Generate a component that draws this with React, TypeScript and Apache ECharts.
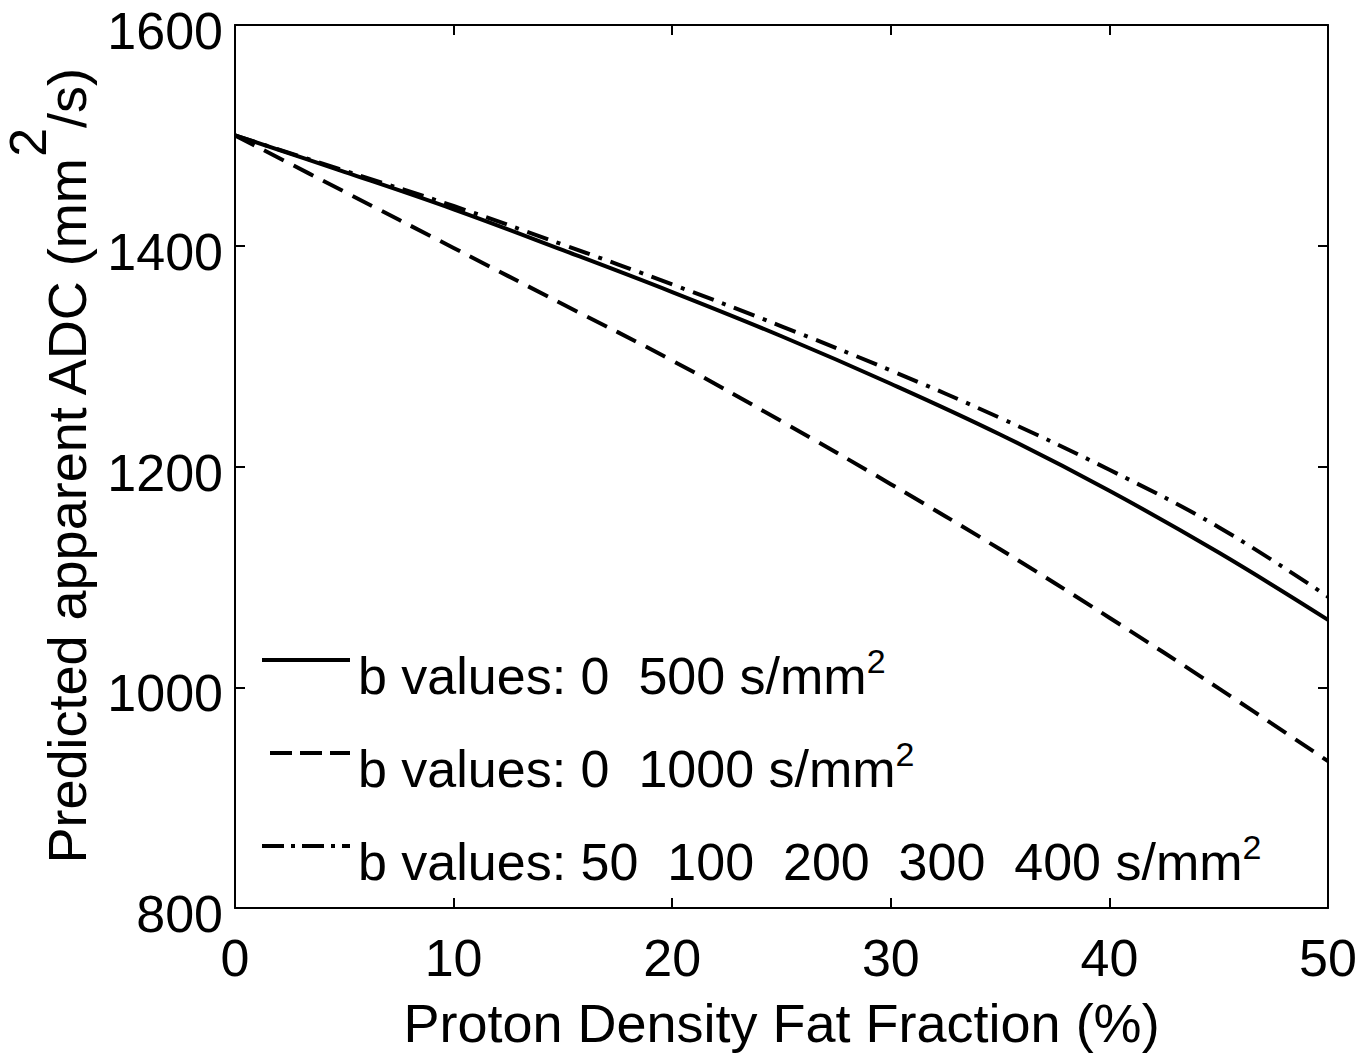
import React, { useEffect, useRef } from "react";
import * as echarts from "echarts";

// Proton density fat fraction (%)
const fatFraction = [0, 5, 10, 15, 20, 25, 30, 35, 40, 45, 50];
// Predicted apparent ADC (mm^2/s) for each b-value set
const adcB0_500 = [1500, 1467, 1433, 1396, 1358, 1318, 1275, 1229, 1178, 1122, 1061];
const adcB0_1000 = [1500, 1449, 1398, 1347, 1296, 1241, 1184, 1125, 1063, 999, 933];
const adcMulti = [1500, 1468, 1436, 1401, 1365, 1327, 1287, 1244, 1197, 1145, 1082];

const seriesNames = [
  "b values: 0\u00A0\u00A0500 s/mm",
  "b values: 0\u00A0\u00A01000 s/mm",
  "b values: 50\u00A0\u00A0100\u00A0\u00A0200\u00A0\u00A0300\u00A0\u00A0400 s/mm",
];

const xRange = { min: 0, max: 50, interval: 10 };
const yRange = { min: 800, max: 1600, interval: 200 };

const FONT = "'Liberation Sans', Arial, Helvetica, sans-serif";

const dashStyles: any[] = ["solid", [22, 11], [22, 9, 4, 9]];

function pairs(xs: number[], ys: number[]) {
  return xs.map((x, i) => [x, ys[i]]);
}

export default function App() {
  const ref = useRef<HTMLDivElement>(null);
  useEffect(() => {
    const chart = echarts.init(ref.current!, null, { renderer: "svg" });
    const axisCommon = {
      axisLine: { show: true, onZero: false, lineStyle: { color: "#000", width: 2 } },
      axisTick: { show: true, inside: true, length: 10, lineStyle: { color: "#000", width: 2 } },
      splitLine: { show: false },
    };
    const legendRich = {
      m: { fontSize: 52, fontFamily: FONT, color: "#000", verticalAlign: "bottom" },
      s: { fontSize: 34, fontFamily: FONT, color: "#000", verticalAlign: "bottom", padding: [0, 0, 24, 0] },
    };
    const legendRows = seriesNames.map((name, i) => {
      const ly = 660 + 93 * i;
      const x1 = i === 1 ? 270 : 262;
      return [
        {
          type: "line",
          shape: { x1, y1: ly, x2: 350, y2: ly },
          style: {
            stroke: "#000",
            lineWidth: 4,
            lineDash: i === 0 ? null : i === 1 ? [22, 8] : [22, 7, 4, 7],
          },
        },
        {
          type: "text",
          x: 358,
          y: 673 + 93 * i,
          style: {
            text: `{m|${name}}{s|2}`,
            rich: legendRich,
            verticalAlign: "middle",
            align: "left",
            fill: "#000",
          },
        },
      ];
    }).flat();

    const option: any = {
      animation: false,
      backgroundColor: "#fff",
      grid: { left: 235, right: 43, top: 25, bottom: 149, containLabel: false, outerBoundsMode: "none" },
      xAxis: [
        {
          type: "value",
          position: "bottom",
          ...xRange,
          ...axisCommon,
          axisLabel: { fontSize: 52, fontFamily: FONT, color: "#000", margin: 24, formatter: (v: number) => String(v) },
          name: "Proton Density Fat Fraction (%)",
          nameLocation: "middle",
          nameGap: 88,
          nameTextStyle: { fontSize: 54, fontFamily: FONT, color: "#000" },
        },
        {
          type: "value",
          position: "top",
          ...xRange,
          ...axisCommon,
          axisLabel: { show: false },
        },
      ],
      yAxis: [
        {
          type: "value",
          position: "left",
          ...yRange,
          ...axisCommon,
          axisLabel: {
            fontSize: 52,
            fontFamily: FONT,
            color: "#000",
            margin: 12,
            lineHeight: 64,
            verticalAlign: "top",
            padding: [-26, 0, 0, 0],
            formatter: (v: number) => String(v),
          },
          name: "{m|Predicted apparent ADC (mm}{s|2}{m|/s)}",
          nameLocation: "middle",
          nameRotate: 90,
          nameGap: 141,
          nameTextStyle: {
            rich: {
              m: { fontSize: 54, fontFamily: FONT, color: "#000", verticalAlign: "bottom" },
              s: { fontSize: 52, fontFamily: FONT, color: "#000", verticalAlign: "bottom", padding: [0, 0, 40, 0] },
            },
          },
        },
        {
          type: "value",
          position: "right",
          ...yRange,
          ...axisCommon,
          axisLabel: { show: false },
        },
      ],
      series: [
        { name: seriesNames[1], data: pairs(fatFraction, adcB0_1000), lineType: dashStyles[1] },
        { name: seriesNames[0], data: pairs(fatFraction, adcB0_500), lineType: dashStyles[0] },
        { name: seriesNames[2], data: pairs(fatFraction, adcMulti), lineType: dashStyles[2] },
      ].map((s) => ({
        type: "line",
        name: s.name,
        data: s.data,
        xAxisIndex: 0,
        yAxisIndex: 0,
        smooth: 0.4,
        showSymbol: false,
        symbol: "none",
        lineStyle: { color: "#000", width: 4, type: s.lineType },
        z: 3,
      })),
      graphic: legendRows,
    };
    chart.setOption(option);
    return () => chart.dispose();
  }, []);
  return (
    <div
      ref={ref}
      style={{ position: "absolute", left: 0, top: 0, width: 1371, height: 1057, background: "#fff" }}
    />
  );
}
